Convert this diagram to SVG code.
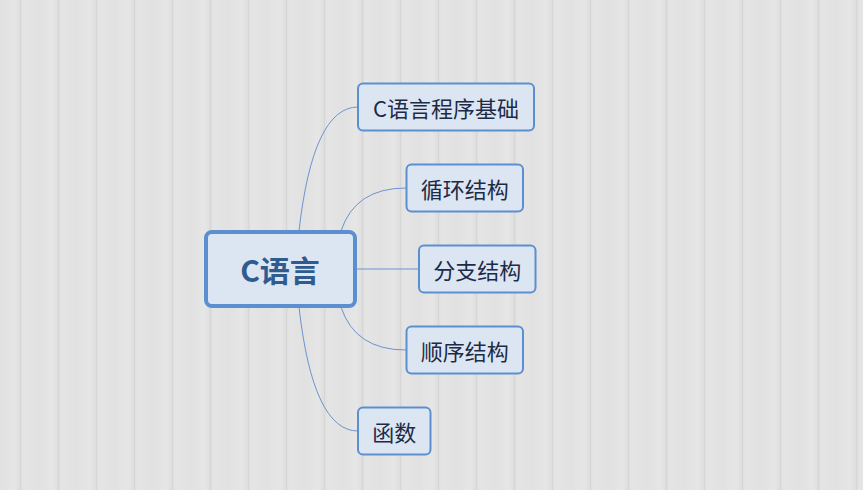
<svg xmlns="http://www.w3.org/2000/svg" width="863" height="490" viewBox="0 0 863 490">
<defs>
<linearGradient id="plank" x1="0" y1="0" x2="1" y2="0">
<stop offset="0" stop-color="#dcdcdc"/>
<stop offset="0.1" stop-color="#e5e5e5"/>
<stop offset="0.5" stop-color="#e1e1e1"/>
<stop offset="0.85" stop-color="#e6e6e6"/>
<stop offset="1" stop-color="#dedede"/>
</linearGradient>
<pattern id="wood" x="20" y="0" width="38" height="490" patternUnits="userSpaceOnUse">
<rect width="38" height="490" fill="url(#plank)"/>
<rect x="0" width="1" height="490" fill="#d6d6d6"/>
</pattern>
<style>
.box{fill:#dce6f2;stroke:#5b8fd0;stroke-width:2}
.lbl{font-family:"Noto Sans CJK SC","Noto Sans",sans-serif;font-size:22px;fill:#1c2b48;text-anchor:middle;dominant-baseline:central}
.conn path{fill:none;stroke:#6b95cf;stroke-width:1}
</style>
</defs>
<rect width="863" height="490" fill="#e3e3e3"/>
<rect width="863" height="490" fill="url(#wood)"/>
<g id="connectors" class="conn">
<path d="M299,231 Q313,107 358,107"/>
<path d="M341,231 Q355,188 406,188"/>
<path d="M357,269 L419,269"/>
<path d="M341,307 Q355,350 406,350"/>
<path d="M299,307 Q313,431 358,431"/>
</g>
<g id="root">
<rect x="206" y="232" width="149" height="74" rx="6" fill="#dce6f2" stroke="#5b8fd0" stroke-width="4"/>
<text x="280" y="269" font-family="Noto Sans CJK SC,'Noto Sans',sans-serif" font-size="30" font-weight="bold" fill="#2f5b8f" text-anchor="middle" dominant-baseline="central">C语言</text>
</g>
<g id="n1">
<rect class="box" x="358" y="83.5" width="176" height="47" rx="5"/>
<text class="lbl" x="446" y="107">C语言程序基础</text>
</g>
<g id="n2">
<rect class="box" x="406.5" y="164.5" width="116.5" height="47" rx="5"/>
<text class="lbl" x="464.7" y="188">循环结构</text>
</g>
<g id="n3">
<rect class="box" x="419" y="245.5" width="116.5" height="47" rx="5"/>
<text class="lbl" x="477.2" y="269">分支结构</text>
</g>
<g id="n4">
<rect class="box" x="406.5" y="326.5" width="116.5" height="47" rx="5"/>
<text class="lbl" x="464.7" y="350">顺序结构</text>
</g>
<g id="n5">
<rect class="box" x="358" y="407.5" width="72.5" height="47" rx="5"/>
<text class="lbl" x="394.2" y="431">函数</text>
</g>
</svg>
